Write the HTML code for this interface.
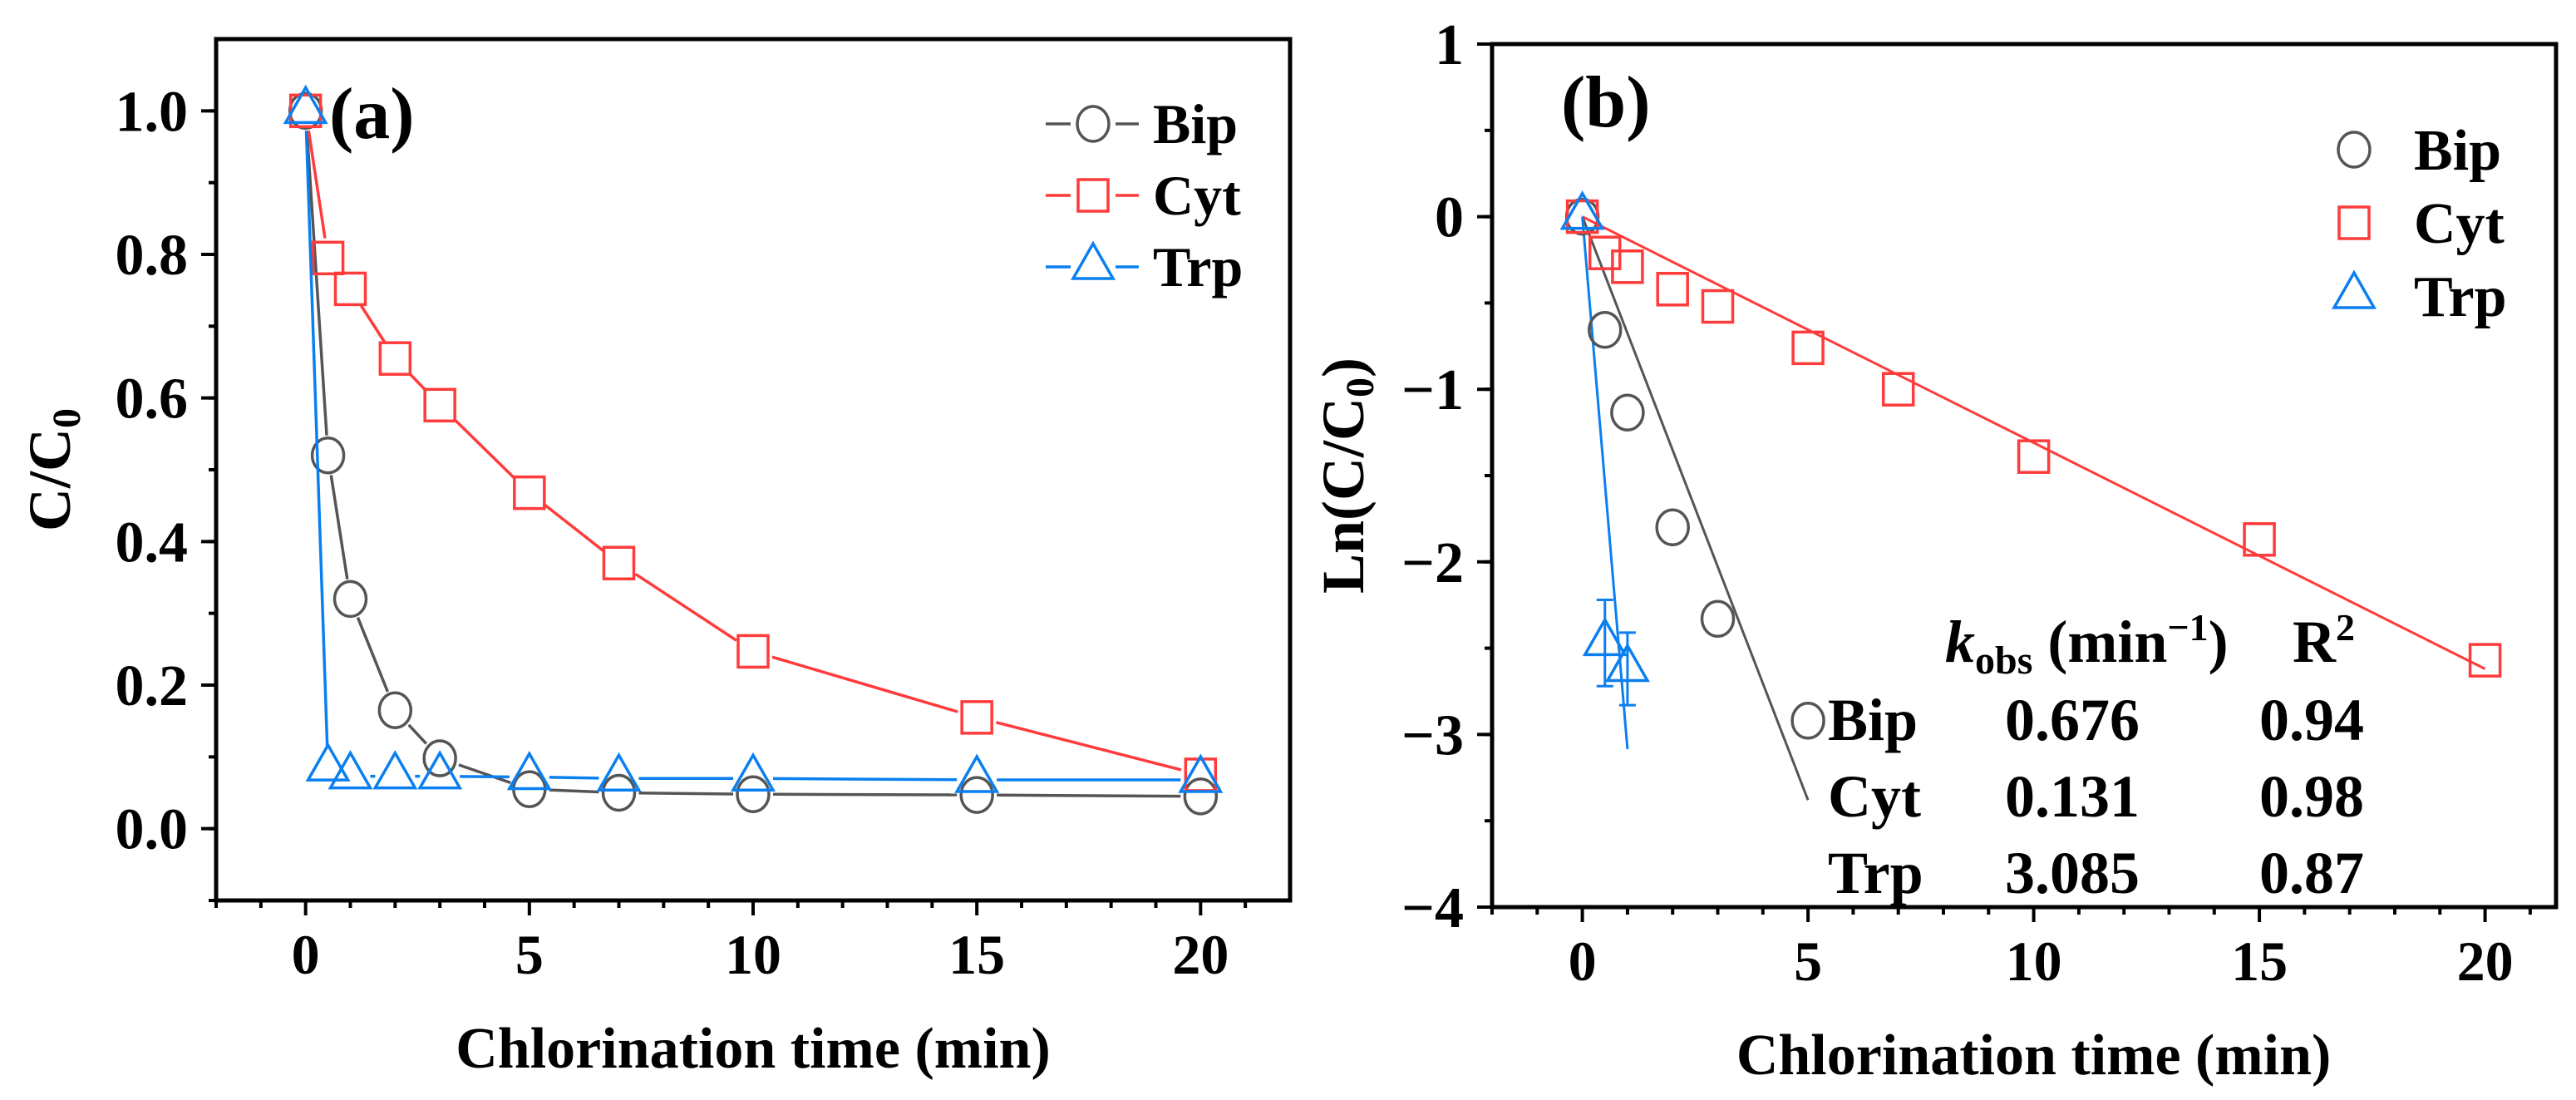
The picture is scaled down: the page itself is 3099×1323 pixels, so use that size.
<!DOCTYPE html>
<html><head><meta charset="utf-8"><style>
html,body{margin:0;padding:0;background:#fff;}
svg{display:block;font-family:"Liberation Serif",serif;font-weight:bold;}
</style></head><body>
<svg id="fig" width="3099" height="1323" viewBox="0 0 3099 1323" xmlns="http://www.w3.org/2000/svg">
<g id="pa"></g>
<g id="pb"></g>
</svg>
<script>
// ---- Panel (a) data ----
const timesA = [0,0.5,1,2,3,5,7,10,15,20];
const bipA = [1.0,0.52,0.32,0.165,0.098,0.055,0.05,0.048,0.047,0.045];
const cytA = [1.0,0.795,0.752,0.655,0.59,0.468,0.37,0.247,0.155,0.075];
const trpA = [1.0,0.084,0.073,0.073,0.073,0.072,0.07,0.07,0.068,0.068];
const yTicksA = ["0.0","0.2","0.4","0.6","0.8","1.0"];
const xTicks = ["0","5","10","15","20"];
// ---- Panel (b) data ----
const timesBip = [0,0.5,1,2,3,5];
const lnBip = [0,-0.656,-1.135,-1.8,-2.33,-2.92];
const timesCyt = [0,0.5,1,2,3,5,7,10,15,20];
const lnCyt = [0,-0.21,-0.29,-0.42,-0.52,-0.76,-1.0,-1.39,-1.87,-2.57];
const timesTrp = [0,0.5,1];
const lnTrp = [0,-2.47,-2.62];
const errTrp = [0,0.25,0.21];
const kobs = [0.676,0.131,3.085];
const fitEnd = [5,20,1];
const r2 = ["0.94","0.98","0.87"];
const kLabels = ["0.676","0.131","3.085"];
const names = ["Bip","Cyt","Trp"];
const yTicksB = ["1","0","\u22121","\u22122","\u22123","\u22124"];
const yTickValsB = [1,0,-1,-2,-3,-4];

const NS="http://www.w3.org/2000/svg";
const colors={Bip:"#555555",Cyt:"#ff3b3b",Trp:"#0a7ff0"};
function mk(parent,tag,attrs,text){const e=document.createElementNS(NS,tag);for(const k in attrs)e.setAttribute(k,attrs[k]);if(text!==undefined)e.textContent=text;parent.appendChild(e);return e;}

function marker(g,type,cx,cy,col){
  let e;
  if(type==="Bip"){e=mk(g,"ellipse",{cx:cx,cy:cy,rx:19,ry:21,fill:"none",stroke:col,"stroke-width":3.5});}
  else if(type==="Cyt"){e=mk(g,"rect",{x:cx-18,y:cy-19,width:36,height:38,fill:"none",stroke:col,"stroke-width":3.5});}
  else {e=mk(g,"polygon",{points:(cx)+","+(cy-28)+" "+(cx-24)+","+(cy+14)+" "+(cx+24)+","+(cy+14),fill:"none",stroke:col,"stroke-width":3.5});}
  
  
  return e;
}

function axes(g,L,R,T,B,sx,sy,xMinor,yMinor,yMajorVals,yLabels){
  const fr=mk(g,"rect",{x:L,y:T,width:R-L,height:B-T,fill:"none",stroke:"#000","stroke-width":5});
  
  const xt=mk(g,"g",{});
  xMinor.forEach(v=>{const major=(v%5===0);mk(xt,"line",{x1:sx(v),x2:sx(v),y1:B,y2:B+(major?18:9),stroke:"#000","stroke-width":4});});
  xTicks.forEach(t=>{const l=mk(xt,"text",{x:sx(+t),y:B+88,"text-anchor":"middle","font-size":68},t);});
  const yt=mk(g,"g",{});
  yMinor.forEach(v=>{mk(yt,"line",{x1:L-9,x2:L,y1:sy(v),y2:sy(v),stroke:"#000","stroke-width":4});});
  yMajorVals.forEach((v,i)=>{mk(yt,"line",{x1:L-18,x2:L,y1:sy(v),y2:sy(v),stroke:"#000","stroke-width":4});
    const l=mk(yt,"text",{x:L-34,y:sy(v)+24,"text-anchor":"end","font-size":70},yLabels[i]);});
}

// ===== Panel A =====
(function(){
const g=document.getElementById("pa");
const L=260,R=1552,T=47,B=1083, x0=-2,x1=22,y0=-0.1,y1=1.1;
const sx=v=>L+(v-x0)/(x1-x0)*(R-L), sy=v=>B-(v-y0)/(y1-y0)*(B-T);
const xm=[];for(let i=-2;i<=21;i++)xm.push(i);
const ym=[];for(let i=0;i<=11;i++)ym.push(-0.1+i*0.1);
axes(g,L,R,T,B,sx,sy,xm,ym,[0,0.2,0.4,0.6,0.8,1.0],yTicksA);
const series={Bip:bipA,Cyt:cytA,Trp:trpA};
["Bip","Cyt","Trp"].forEach(n=>{
  const sg=mk(g,"g",{});
  const vals=series[n],col=colors[n];
  for(let i=0;i<vals.length-1;i++){
    const ax=sx(timesA[i]),ay=sy(vals[i]),bx=sx(timesA[i+1]),by=sy(vals[i+1]);
    const d=Math.hypot(bx-ax,by-ay),gap=24;
    if(d>2*gap){const ux=(bx-ax)/d,uy=(by-ay)/d;
      mk(sg,"line",{x1:ax+ux*gap,y1:ay+uy*gap,x2:bx-ux*gap,y2:by-uy*gap,stroke:col,"stroke-width":3.5});}
  }
  vals.forEach((v,i)=>marker(sg,n,sx(timesA[i]),sy(v),col));
});
const t=mk(g,"text",{x:396,y:166,"font-size":88},"(a)");
const yl=mk(g,"text",{x:84,y:565,"font-size":72,"text-anchor":"middle",transform:"rotate(-90 84 565)"});

yl.innerHTML='C/C<tspan font-size="48" dy="12">0</tspan>';
const xl=mk(g,"text",{x:sx(10),y:1284,"font-size":70,"text-anchor":"middle"},"Chlorination time (min)");
// legend
names.forEach((n,i)=>{const y=149+i*86;const lg=mk(g,"g",{});
  mk(lg,"line",{x1:1258,x2:1288,y1:y,y2:y,stroke:colors[n],"stroke-width":3.5});
  mk(lg,"line",{x1:1342,x2:1370,y1:y,y2:y,stroke:colors[n],"stroke-width":3.5});
  marker(lg,n,1315,y,colors[n]);
  mk(lg,"text",{x:1387,y:y+23,"font-size":68},n);});
})();

// ===== Panel B =====
(function(){
const g=document.getElementById("pb");
const L=1795,R=3075,T=53,B=1091, x0=-2,x1=-2+(3075-1795)/54.3,y0=-4,y1=1;
const sx=v=>L+(v-x0)/(x1-x0)*(R-L), sy=v=>B-(v-y0)/(y1-y0)*(B-T);
const xm=[];for(let i=-2;i<=21;i++)xm.push(i);
const ym=[];for(let i=0;i<=10;i++)ym.push(-4+i*0.5);
axes(g,L,R,T,B,sx,sy,xm,ym,yTickValsB,yTicksB);
// fit lines
const fitCols=[colors.Bip,colors.Cyt,colors.Trp];
kobs.forEach((k,i)=>{const l=mk(g,"line",{x1:sx(0),y1:sy(0),x2:sx(fitEnd[i]),y2:sy(-k*fitEnd[i]),stroke:fitCols[i],"stroke-width":3});
  });
const sets=[["Bip",timesBip,lnBip],["Cyt",timesCyt,lnCyt],["Trp",timesTrp,lnTrp]];
sets.forEach(([n,ts,vs])=>{const sg=mk(g,"g",{});
  vs.forEach((v,i)=>{
    if(n==="Trp"&&errTrp[i]>0){const x=sx(ts[i]);mk(sg,"line",{x1:x,x2:x,y1:sy(v+errTrp[i]),y2:sy(v-errTrp[i]),stroke:colors[n],"stroke-width":3});
      mk(sg,"line",{x1:x-10,x2:x+10,y1:sy(v+errTrp[i]),y2:sy(v+errTrp[i]),stroke:colors[n],"stroke-width":3});
      mk(sg,"line",{x1:x-10,x2:x+10,y1:sy(v-errTrp[i]),y2:sy(v-errTrp[i]),stroke:colors[n],"stroke-width":3});}
    marker(sg,n,sx(ts[i]),sy(v),colors[n]);});
});
const t=mk(g,"text",{x:1878,y:152,"font-size":88},"(b)");
const yl=mk(g,"text",{x:1640,y:572,"font-size":72,"text-anchor":"middle",transform:"rotate(-90 1640 572)"});

yl.innerHTML='Ln(C/C<tspan font-size="48" dy="12">0</tspan><tspan dy="-12">)</tspan>';
const xl=mk(g,"text",{x:sx(10),y:1292,"font-size":70,"text-anchor":"middle"},"Chlorination time (min)");
names.forEach((n,i)=>{const y=180+i*88;const lg=mk(g,"g",{});
  marker(lg,n,2832,y,colors[n]);
  mk(lg,"text",{x:2904,y:y+24,"font-size":70},n);});
// table
const tb=mk(g,"g",{"font-size":72});
const h=mk(tb,"text",{x:2340,y:796});h.innerHTML='<tspan font-style="italic">k</tspan><tspan font-size="48" dy="14">obs</tspan><tspan dy="-14"> (min</tspan><tspan font-size="46" dy="-26">\u22121</tspan><tspan dy="26">)</tspan>';
const h2=mk(tb,"text",{x:2758,y:796});h2.innerHTML='R<tspan font-size="46" dy="-26">2</tspan>';
names.forEach((n,i)=>{const y=890+i*92;
  mk(tb,"text",{x:2199,y:y},n);mk(tb,"text",{x:2412,y:y},kLabels[i]);mk(tb,"text",{x:2718,y:y},r2[i]);});
})();
</script>
</body></html>
